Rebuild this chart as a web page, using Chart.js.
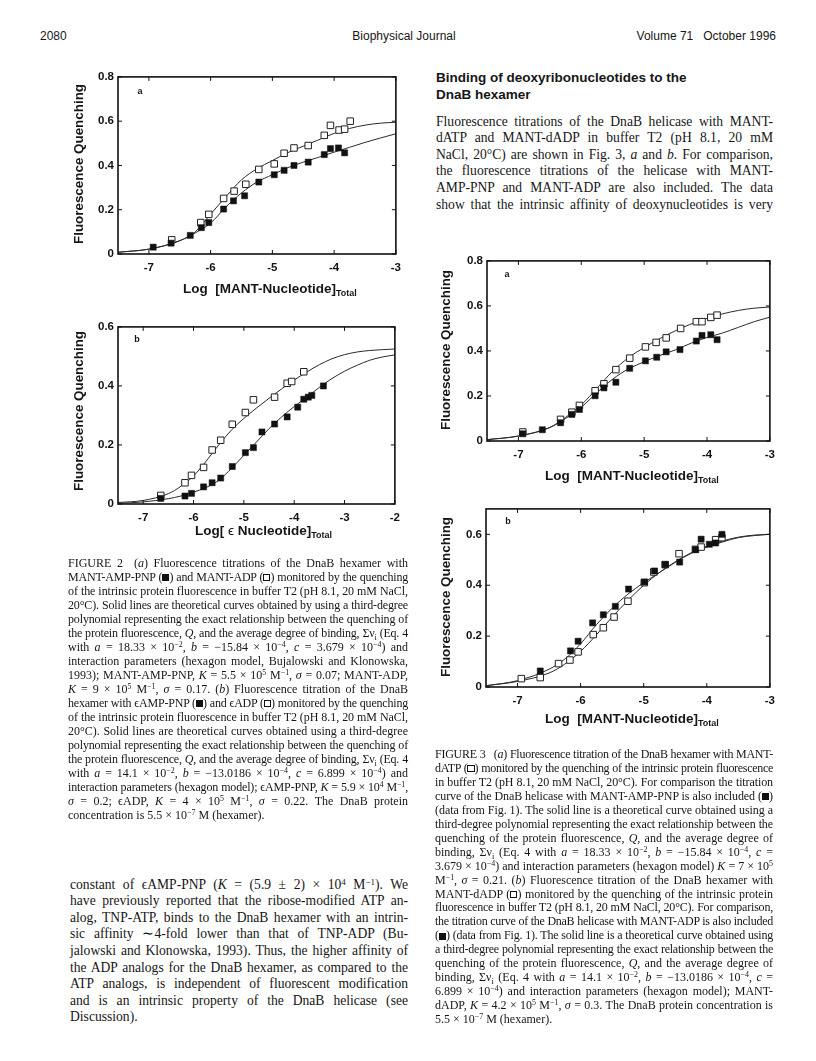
<!DOCTYPE html>
<html>
<head>
<meta charset="utf-8">
<script src="https://cdn.jsdelivr.net/npm/chart.js@4.4.1/dist/chart.umd.min.js"></script>
<style>
  html, body { margin: 0; padding: 0; background: #fff; }
  body { width: 816px; height: 1061px; position: relative; overflow: hidden; color: #161616; }
  canvas { position: absolute; }
  .hdr { position: absolute; top: 29px; font-family: 'Liberation Sans', Arial, sans-serif; font-size: 12px; white-space: nowrap; }
  .head { position: absolute; font-family: 'Liberation Sans', Arial, sans-serif; font-weight: bold; font-size: 13.5px; line-height: 17px; }
  .blk { position: absolute; font-family: 'Liberation Serif', 'Times New Roman', serif; }
  .blk div { text-align: justify; text-align-last: justify; }
  .blk div.end { text-align-last: left; }
  .body { font-size: 13.6px; line-height: 16.6px; }
  .cap { font-size: 12px; line-height: 14px; }
  sup { font-size: 0.66em; line-height: 0; vertical-align: 0.5em; }
  .blk sub { font-size: 0.7em; line-height: 0; }
  .sq { display: inline-block; width: 0.6em; height: 0.6em; border: 1px solid #111; box-sizing: border-box; vertical-align: -0.03em; }
  .sq.f { background: #111; }
  .ytl { position: absolute; font-family: 'Liberation Sans', Arial, sans-serif; font-weight: bold; font-size: 13.4px; white-space: nowrap;
         transform: translate(-50%, -50%) rotate(-90deg); }
  .xtl { position: absolute; font-family: 'Liberation Sans', Arial, sans-serif; font-weight: bold; font-size: 13.5px; white-space: nowrap;
         transform: translateY(-50%); }
  .xtl sub { font-size: 9px; vertical-align: -0.35em; line-height: 0; }
  .pl { position: absolute; font-family: 'Liberation Sans', Arial, sans-serif; font-weight: bold; font-size: 9px; transform: translate(-50%, -50%); }
</style>
</head>
<body>

<div class="hdr" style="left:40px">2080</div>
<div class="hdr" style="left:404px; transform:translateX(-50%)">Biophysical Journal</div>
<div class="hdr" style="right:40px">Volume 71&nbsp;&nbsp;&nbsp;October 1996</div>

<!-- Figure 2 -->
<canvas id="c2a"></canvas>
<canvas id="c2b"></canvas>
<div class="ytl" style="left:78px; top:164px">Fluorescence Quenching</div>
<div class="xtl" style="left:183px; top:288px">Log&nbsp; [MANT-Nucleotide]<sub>Total</sub></div>
<div class="pl" style="left:140px; top:91px">a</div>
<div class="ytl" style="left:78px; top:411px">Fluorescence Quenching</div>
<div class="xtl" style="left:195px; top:530px">Log[ <span style="font-weight:normal">ϵ</span> Nucleotide]<sub>Total</sub></div>
<div class="pl" style="left:137px; top:339px">b</div>

<!-- Figure 3 -->
<canvas id="c3a"></canvas>
<canvas id="c3b"></canvas>
<div class="ytl" style="left:445px; top:350px">Fluorescence Quenching</div>
<div class="xtl" style="left:545px; top:475px">Log&nbsp; [MANT-Nucleotide]<sub>Total</sub></div>
<div class="pl" style="left:507px; top:274px">a</div>
<div class="ytl" style="left:445px; top:597px">Fluorescence Quenching</div>
<div class="xtl" style="left:545px; top:718px">Log&nbsp; [MANT-Nucleotide]<sub>Total</sub></div>
<div class="pl" style="left:508px; top:521px">b</div>

<div class="head" style="left:436px; top:69px">Binding of deoxyribonucleotides to the<br>DnaB hexamer</div>

<div class="blk body" style="left:436px; top:113.7px; width:337px">
  <div>Fluorescence titrations of the DnaB helicase with MANT-</div>
  <div>dATP and MANT-dADP in buffer T2 (pH 8.1, 20 mM</div>
  <div>NaCl, 20°C) are shown in Fig. 3, <i>a</i> and <i>b</i>. For comparison,</div>
  <div>the fluorescence titrations of the helicase with MANT-</div>
  <div>AMP-PNP and MANT-ADP are also included. The data</div>
  <div>show that the intrinsic affinity of deoxynucleotides is very</div>
</div>

<div class="blk cap" style="left:68px; top:556px; width:340px">
  <div>FIGURE 2&nbsp; (<i>a</i>) Fluorescence titrations of the DnaB hexamer with</div>
  <div>MANT-AMP-PNP (<span class="sq f"></span>) and MANT-ADP (<span class="sq"></span>) monitored by the quenching</div>
  <div>of the intrinsic protein fluorescence in buffer T2 (pH 8.1, 20 mM NaCl,</div>
  <div>20°C). Solid lines are theoretical curves obtained by using a third-degree</div>
  <div>polynomial representing the exact relationship between the quenching of</div>
  <div>the protein fluorescence, <i>Q</i>, and the average degree of binding, Σν<sub>i</sub> (Eq. 4</div>
  <div>with <i>a</i> = 18.33 × 10<sup>−2</sup>, <i>b</i> = −15.84 × 10<sup>−4</sup>, <i>c</i> = 3.679 × 10<sup>−4</sup>) and</div>
  <div>interaction parameters (hexagon model, Bujalowski and Klonowska,</div>
  <div>1993); MANT-AMP-PNP, <i>K</i> = 5.5 × 10<sup>5</sup> M<sup>−1</sup>, <i>σ</i> = 0.07; MANT-ADP,</div>
  <div><i>K</i> = 9 × 10<sup>5</sup> M<sup>−1</sup>, <i>σ</i> = 0.17. (<i>b</i>) Fluorescence titration of the DnaB</div>
  <div>hexamer with ϵAMP-PNP (<span class="sq f"></span>) and ϵADP (<span class="sq"></span>) monitored by the quenching</div>
  <div>of the intrinsic protein fluorescence in buffer T2 (pH 8.1, 20 mM NaCl,</div>
  <div>20°C). Solid lines are theoretical curves obtained using a third-degree</div>
  <div>polynomial representing the exact relationship between the quenching of</div>
  <div>the protein fluorescence, <i>Q</i>, and the average degree of binding, Σν<sub>i</sub> (Eq. 4</div>
  <div>with <i>a</i> = 14.1 × 10<sup>−2</sup>, <i>b</i> = −13.0186 × 10<sup>−4</sup>, <i>c</i> = 6.899 × 10<sup>−4</sup>) and</div>
  <div>interaction parameters (hexagon model); ϵAMP-PNP, <i>K</i> = 5.9 × 10<sup>4</sup> M<sup>−1</sup>,</div>
  <div><i>σ</i> = 0.2; ϵADP, <i>K</i> = 4 × 10<sup>5</sup> M<sup>−1</sup>, <i>σ</i> = 0.22. The DnaB protein</div>
  <div class="end">concentration is 5.5 × 10<sup>−7</sup> M (hexamer).</div>
</div>

<div class="blk body" style="left:70px; top:876.7px; width:338px">
  <div>constant of ϵAMP-PNP (<i>K</i> = (5.9 ± 2) × 10<sup>4</sup> M<sup>−1</sup>). We</div>
  <div>have previously reported that the ribose-modified ATP an-</div>
  <div>alog, TNP-ATP, binds to the DnaB hexamer with an intrin-</div>
  <div>sic affinity ∼4-fold lower than that of TNP-ADP (Bu-</div>
  <div>jalowski and Klonowska, 1993). Thus, the higher affinity of</div>
  <div>the ADP analogs for the DnaB hexamer, as compared to the</div>
  <div>ATP analogs, is independent of fluorescent modification</div>
  <div>and is an intrinsic property of the DnaB helicase (see</div>
  <div class="end">Discussion).</div>
</div>

<div class="blk cap" style="left:435px; top:748px; width:338px; line-height:13.95px">
  <div>FIGURE 3&nbsp;&nbsp; (<i>a</i>) Fluorescence titration of the DnaB hexamer with MANT-</div>
  <div>dATP (<span class="sq"></span>) monitored by the quenching of the intrinsic protein fluorescence</div>
  <div>in buffer T2 (pH 8.1, 20 mM NaCl, 20°C). For comparison the titration</div>
  <div>curve of the DnaB helicase with MANT-AMP-PNP is also included (<span class="sq f"></span>)</div>
  <div>(data from Fig. 1). The solid line is a theoretical curve obtained using a</div>
  <div>third-degree polynomial representing the exact relationship between the</div>
  <div>quenching of the protein fluorescence, <i>Q</i>, and the average degree of</div>
  <div>binding, Σν<sub>i</sub> (Eq. 4 with <i>a</i> = 18.33 × 10<sup>−2</sup>, <i>b</i> = −15.84 × 10<sup>−4</sup>, <i>c</i> =</div>
  <div>3.679 × 10<sup>−4</sup>) and interaction parameters (hexagon model) <i>K</i> = 7 × 10<sup>5</sup></div>
  <div>M<sup>−1</sup>, <i>σ</i> = 0.21. (<i>b</i>) Fluorescence titration of the DnaB hexamer with</div>
  <div>MANT-dADP (<span class="sq"></span>) monitored by the quenching of the intrinsic protein</div>
  <div>fluorescence in buffer T2 (pH 8.1, 20 mM NaCl, 20°C). For comparison,</div>
  <div>the titration curve of the DnaB helicase with MANT-ADP is also included</div>
  <div>(<span class="sq f"></span>) (data from Fig. 1). The solid line is a theoretical curve obtained using</div>
  <div>a third-degree polynomial representing the exact relationship between the</div>
  <div>quenching of the protein fluorescence, <i>Q</i>, and the average degree of</div>
  <div>binding, Σν<sub>i</sub> (Eq. 4 with <i>a</i> = 14.1 × 10<sup>−2</sup>, <i>b</i> = −13.0186 × 10<sup>−4</sup>, <i>c</i> =</div>
  <div>6.899 × 10<sup>−4</sup>) and interaction parameters (hexagon model); MANT-</div>
  <div>dADP, <i>K</i> = 4.2 × 10<sup>5</sup> M<sup>−1</sup>, <i>σ</i> = 0.3. The DnaB protein concentration is</div>
  <div class="end">5.5 × 10<sup>−7</sup> M (hexamer).</div>
</div>

<script>
// ---- Fig 2a: MANT-ADP (open) / MANT-AMP-PNP (filled) ----
const f2aAdpX = [-6.63, -6.16, -6.03, -5.79, -5.62, -5.43, -5.22, -4.97, -4.81, -4.65, -4.42, -4.16, -4.06, -3.92, -3.83, -3.74];
const f2aAdpY = [0.064, 0.142, 0.179, 0.251, 0.284, 0.315, 0.382, 0.407, 0.455, 0.479, 0.490, 0.536, 0.581, 0.560, 0.564, 0.600];
const f2aPnpX = [-6.93, -6.64, -6.33, -6.15, -6.03, -5.79, -5.63, -5.45, -5.22, -4.97, -4.81, -4.65, -4.42, -4.16, -4.06, -3.93, -3.83];
const f2aPnpY = [0.031, 0.049, 0.084, 0.119, 0.142, 0.203, 0.240, 0.263, 0.325, 0.358, 0.378, 0.400, 0.415, 0.449, 0.476, 0.479, 0.457];

// theoretical curves
const fitX = [-7.5, -7, -6.5, -6.25, -6, -5.75, -5.5, -5.25, -5, -4.75, -4.5, -4.25, -4, -3.75, -3.5, -3.25, -3];
const f2aAdpFit = [0.008, 0.022, 0.06, 0.10, 0.18, 0.26, 0.335, 0.385, 0.422, 0.458, 0.487, 0.516, 0.545, 0.567, 0.582, 0.591, 0.595];
const f2aPnpFit = [0.008, 0.022, 0.06, 0.095, 0.14, 0.213, 0.276, 0.325, 0.358, 0.39, 0.415, 0.437, 0.46, 0.482, 0.504, 0.524, 0.543];

// ---- Fig 2b: eADP (open) / eAMP-PNP (filled) ----
const f2bAdpX = [-6.65, -6.17, -6.04, -5.80, -5.63, -5.46, -5.23, -4.97, -4.81, -4.39, -4.14, -4.05, -3.81];
const f2bAdpY = [0.029, 0.072, 0.097, 0.124, 0.183, 0.216, 0.270, 0.310, 0.353, 0.362, 0.409, 0.415, 0.448];
const f2bPnpX = [-6.65, -6.17, -6.04, -5.80, -5.63, -5.46, -5.23, -4.97, -4.81, -4.64, -4.39, -4.14, -3.93, -3.81, -3.72, -3.65, -3.42];
const f2bPnpY = [0.019, 0.027, 0.036, 0.058, 0.072, 0.088, 0.127, 0.174, 0.191, 0.244, 0.271, 0.295, 0.328, 0.355, 0.362, 0.368, 0.400];
const fitX2b = [-7.5, -7, -6.5, -6.25, -6, -5.75, -5.5, -5.25, -5, -4.75, -4.5, -4.25, -4, -3.75, -3.5, -3.25, -3, -2.75, -2.5, -2.25, -2];
const f2bAdpFit = [0.005, 0.012, 0.035, 0.06, 0.095, 0.145, 0.2, 0.25, 0.29, 0.325, 0.358, 0.39, 0.42, 0.447, 0.472, 0.492, 0.506, 0.515, 0.52, 0.523, 0.525];
const f2bPnpFit = [0.002, 0.007, 0.018, 0.027, 0.04, 0.056, 0.08, 0.12, 0.165, 0.21, 0.255, 0.295, 0.33, 0.362, 0.395, 0.425, 0.45, 0.47, 0.487, 0.498, 0.505];

// ---- Fig 3a: MANT-dATP (open) / MANT-AMP-PNP (filled) ----
const f3aDatpX = [-6.93, -6.33, -6.15, -6.03, -5.78, -5.64, -5.45, -5.23, -4.98, -4.81, -4.65, -4.42, -4.17, -4.08, -3.94, -3.84];
const f3aDatpY = [0.040, 0.096, 0.128, 0.158, 0.223, 0.254, 0.317, 0.368, 0.418, 0.438, 0.458, 0.500, 0.530, 0.530, 0.549, 0.559];
const f3aPnpX = [-6.93, -6.62, -6.33, -6.15, -6.03, -5.78, -5.64, -5.45, -5.23, -4.98, -4.80, -4.65, -4.43, -4.17, -4.08, -3.94, -3.84];
const f3aPnpY = [0.032, 0.050, 0.081, 0.118, 0.140, 0.201, 0.236, 0.261, 0.323, 0.356, 0.372, 0.396, 0.406, 0.444, 0.469, 0.472, 0.450];
const f3aDatpFit = [0.006, 0.022, 0.06, 0.105, 0.16, 0.235, 0.31, 0.37, 0.415, 0.455, 0.49, 0.52, 0.545, 0.565, 0.58, 0.59, 0.595];
const f3aPnpFit = [0.006, 0.022, 0.06, 0.10, 0.15, 0.215, 0.275, 0.32, 0.352, 0.38, 0.405, 0.435, 0.46, 0.48, 0.505, 0.53, 0.55];

// ---- Fig 3b: MANT-dADP (open) / MANT-ADP (filled) ----
const f3bDadpX = [-6.94, -6.64, -6.35, -6.17, -6.04, -5.80, -5.64, -5.47, -5.25, -4.99, -4.84, -4.66, -4.44, -4.18, -4.09, -3.86, -3.76];
const f3bDadpY = [0.033, 0.037, 0.092, 0.106, 0.138, 0.206, 0.233, 0.275, 0.337, 0.410, 0.452, 0.481, 0.524, 0.541, 0.550, 0.579, 0.587];
const f3bAdpX = [-6.64, -6.16, -6.04, -5.81, -5.64, -5.45, -5.24, -4.99, -4.83, -4.66, -4.43, -4.18, -4.09, -3.96, -3.86, -3.76];
const f3bAdpY = [0.063, 0.142, 0.180, 0.252, 0.284, 0.317, 0.385, 0.413, 0.456, 0.481, 0.491, 0.540, 0.581, 0.561, 0.566, 0.600];
const f3bDadpFit = [0.005, 0.022, 0.055, 0.09, 0.14, 0.205, 0.275, 0.34, 0.4, 0.45, 0.492, 0.527, 0.553, 0.574, 0.589, 0.597, 0.6];
const f3bAdpFit = [0.005, 0.025, 0.07, 0.11, 0.17, 0.245, 0.31, 0.365, 0.41, 0.45, 0.49, 0.525, 0.55, 0.57, 0.587, 0.595, 0.6];

const xTickStep = 1;
const yTickStep = 0.2;

/* ===== helpers ===== */
const pts = (xs, ys) => xs.map((x, i) => ({ x, y: ys[i] }));

function openSet(xs, ys) {
  return { data: pts(xs, ys), showLine: false, pointStyle: 'rect', pointRadius: 4.6,
           pointBackgroundColor: '#fff', pointBorderColor: '#222', pointBorderWidth: 1 };
}
function filledSet(xs, ys) {
  return { data: pts(xs, ys), showLine: false, pointStyle: 'rect', pointRadius: 4.3,
           pointBackgroundColor: '#111', pointBorderColor: '#111', pointBorderWidth: 0.5 };
}
function fitSet(xs, ys) {
  return { data: pts(xs, ys), showLine: true, pointRadius: 0, borderColor: '#2a2a2a', borderWidth: 1,
           cubicInterpolationMode: 'monotone', fill: false };
}

// box frame + inward tick marks on all four sides
const framePlugin = {
  id: 'frame',
  afterDraw(chart) {
    const { ctx, chartArea: a, scales: { x, y } } = chart;
    ctx.save();
    ctx.strokeStyle = '#111';
    ctx.lineWidth = 1.6;
    ctx.strokeRect(a.left, a.top, a.right - a.left, a.bottom - a.top);
    ctx.lineWidth = 1;
    ctx.beginPath();
    x.ticks.forEach(t => {
      const px = x.getPixelForValue(t.value);
      ctx.moveTo(px, a.bottom); ctx.lineTo(px, a.bottom - 4);
      ctx.moveTo(px, a.top); ctx.lineTo(px, a.top + 4);
    });
    y.ticks.forEach(t => {
      const py = y.getPixelForValue(t.value);
      ctx.moveTo(a.left, py); ctx.lineTo(a.left + 4, py);
      ctx.moveTo(a.right, py); ctx.lineTo(a.right - 4, py);
    });
    ctx.stroke();
    ctx.restore();
  }
};

const tickFont = { family: "'Liberation Sans', Arial, sans-serif", weight: 'bold', size: 11.5 };

// plot = [left, top, right, bottom] of the plotting area on the page
function makeChart(id, plot, xMax, yMax, datasets) {
  const cv = document.getElementById(id);
  const w = plot[2] - plot[0] + 70, h = plot[3] - plot[1] + 40;
  cv.style.left = (plot[0] - 60) + 'px';
  cv.style.top = (plot[1] - 10) + 'px';
  cv.width = w; cv.height = h;
  cv.style.width = w + 'px'; cv.style.height = h + 'px';
  return new Chart(cv, {
    type: 'scatter',
    data: { datasets },
    options: {
      responsive: false,
      animation: false,
      devicePixelRatio: 1,
      layout: { padding: { top: 10, right: 10, left: 0, bottom: 0 } },
      plugins: { legend: { display: false }, tooltip: { enabled: false } },
      scales: {
        x: {
          type: 'linear', min: -7.5, max: xMax,
          grid: { display: false, drawTicks: false }, border: { display: false },
          ticks: { stepSize: xTickStep, includeBounds: false, padding: 7, color: '#111', font: tickFont },
          afterFit: s => { s.height = 30; }
        },
        y: {
          type: 'linear', min: 0, max: yMax,
          grid: { display: false, drawTicks: false }, border: { display: false },
          ticks: { stepSize: yTickStep, includeBounds: false, padding: 4, color: '#111', font: tickFont },
          afterFit: s => { s.width = 60; }
        }
      }
    },
    plugins: [framePlugin]
  });
}

makeChart('c2a', [118, 76, 398, 254], -3, 0.8, [
  filledSet(f2aPnpX, f2aPnpY), openSet(f2aAdpX, f2aAdpY),
  fitSet(fitX, f2aAdpFit), fitSet(fitX, f2aPnpFit)
]);
makeChart('c2b', [118, 326, 397, 504], -2, 0.6, [
  filledSet(f2bPnpX, f2bPnpY), openSet(f2bAdpX, f2bAdpY),
  fitSet(fitX2b, f2bAdpFit), fitSet(fitX2b, f2bPnpFit)
]);
makeChart('c3a', [487, 260, 772, 441], -3, 0.8, [
  filledSet(f3aPnpX, f3aPnpY), openSet(f3aDatpX, f3aDatpY),
  fitSet(fitX, f3aDatpFit), fitSet(fitX, f3aPnpFit)
]);
makeChart('c3b', [486, 508, 772, 687], -3, 0.7, [
  filledSet(f3bAdpX, f3bAdpY), openSet(f3bDadpX, f3bDadpY),
  fitSet(fitX, f3bDadpFit), fitSet(fitX, f3bAdpFit)
]);

// squeeze any justified line that would wrap
document.querySelectorAll('.blk div').forEach(el => {
  const lh = parseFloat(getComputedStyle(el).lineHeight);
  let ls = 0;
  while (el.offsetHeight > lh * 1.5 && ls > -1.2) {
    ls -= 0.05;
    el.style.letterSpacing = ls.toFixed(2) + 'px';
  }
});
</script>
</body>
</html>
